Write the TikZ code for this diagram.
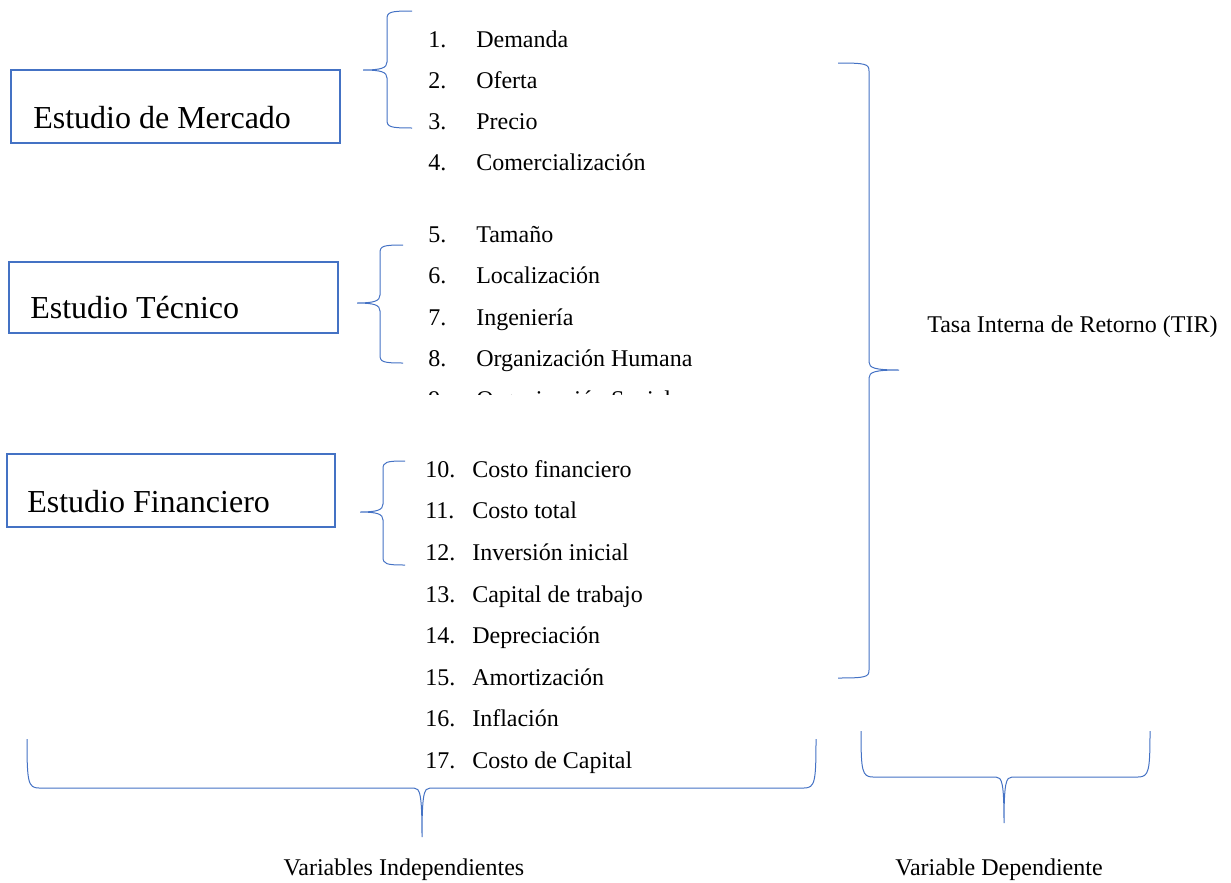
\documentclass[tikz,border=0pt]{standalone}
\usepackage{fontspec}
\setmainfont{Liberation Serif}
\definecolor{wordblue}{HTML}{4472C4}
\tikzset{
  brace/.style={draw=wordblue, line width=0.75pt},
  studybox/.style={draw=wordblue, line width=1.6pt},
  boxtext/.style={anchor=base west, inner sep=0pt, font=\fontsize{24}{28}\selectfont},
  num/.style={anchor=base west, inner sep=0pt, font=\fontsize{18}{21}\selectfont},
  item/.style={anchor=base west, inner sep=0pt, font=\fontsize{18}{21}\selectfont},
  lbl/.style={anchor=base, inner sep=0pt, font=\fontsize{18}{21}\selectfont}
}
% left curly brace: x of spine, top y, middle y, bottom y, x of arm ends, x of tip
\newcommand\bracketLeft[6]{%
  \draw[brace] (#5,#2) .. controls ({#1+3},#2) and (#1,{#2+1}) .. (#1,{#2+8})
    -- (#1,{#3-8}) .. controls (#1,{#3-2}) and ({#1-6},#3) .. (#6,#3)
    (#6,#3) .. controls ({#1-6},#3) and (#1,{#3+2}) .. (#1,{#3+8})
    -- (#1,{#4-8}) .. controls (#1,{#4-1}) and ({#1+3},#4) .. (#5,#4);}
% right curly brace
\newcommand\bracketRight[6]{%
  \draw[brace] (#5,#2) .. controls ({#1-3},#2) and (#1,{#2+1}) .. (#1,{#2+8})
    -- (#1,{#3-8}) .. controls (#1,{#3-2}) and ({#1+6},#3) .. (#6,#3)
    (#6,#3) .. controls ({#1+6},#3) and (#1,{#3+2}) .. (#1,{#3+8})
    -- (#1,{#4-8}) .. controls (#1,{#4-1}) and ({#1-3},#4) .. (#5,#4);}
% downward curly brace: left x, middle x, right x, y of arm ends, y of bar, y of tip
\newcommand\bracketDown[6]{%
  \draw[brace] (#1,#4) .. controls (#1,{#5-6}) and ({#1+1},#5) .. ({#1+12},#5)
    -- ({#2-8},#5) .. controls ({#2-2},#5) and (#2,{#5+6}) .. (#2,#6)
    (#2,#6) .. controls (#2,{#5+6}) and ({#2+2},#5) .. ({#2+8},#5)
    -- ({#3-12},#5) .. controls ({#3-1},#5) and (#3,{#5-6}) .. (#3,#4);}

\begin{document}
\begin{tikzpicture}[x=0.75pt,y=-0.75pt]
\useasboundingbox (0,0) rectangle (1231,882);

% the three studies
\draw[studybox] (11,70) rectangle (340,143);
\node[boxtext] (mercado) at (33,128) {Estudio de Mercado};
\draw[studybox] (9,262) rectangle (338,333);
\node[boxtext] (tecnico) at (30,318) {Estudio Técnico};
\draw[studybox] (7,454) rectangle (335,527);
\node[boxtext] (financiero) at (27,512) {Estudio Financiero};

% market items
\foreach \n/\t/\y in {1/Demanda/47, 2/Oferta/88, 3/Precio/129, 4/Comercialización/170,
                      5/Tamaño/242, 6/Localización/283, 7/Ingeniería/325, 8/Organización Humana/366}{
  \node[num] (n\n) at (428,\y) {\n.};
  \node[item] (i\n) at (476,\y) {\t};
}
% item 9, cut off by the frame below item 8
\begin{scope}
  \clip (400,380) rectangle (760,394);
  \node[num] (n9) at (428,407) {9.};
  \node[item] (i9) at (476,407) {Organización Social};
\end{scope}
% financial items
\foreach \n/\t/\y in {10/Costo financiero/477, 11/Costo total/518, 12/Inversión inicial/560,
                      13/Capital de trabajo/602, 14/Depreciación/643, 15/Amortización/685,
                      16/Inflación/726, 17/Costo de Capital/768}{
  \node[num] (n\n) at (425,\y) {\n.};
  \node[item] (i\n) at (472,\y) {\t};
}

% braces grouping items under each study
\bracketLeft{387}{11}{70}{128}{412}{363}
\bracketLeft{380}{245}{303}{363}{403}{357}
\bracketLeft{383}{461}{512}{565}{405}{360}

% brace towards the dependent variable
\bracketRight{869}{63}{370}{678}{838}{899}
\node[item] (tir) at (927,332) {Tasa Interna de Retorno (TIR)};

% bottom braces and captions
\bracketDown{27}{422}{816}{739}{788}{837}
\bracketDown{861}{1004}{1150}{731}{777}{823}
\node[lbl] (indep) at (404,875) {Variables Independientes};
\node[lbl] (dep) at (999,875) {Variable Dependiente};
\end{tikzpicture}
\end{document}
